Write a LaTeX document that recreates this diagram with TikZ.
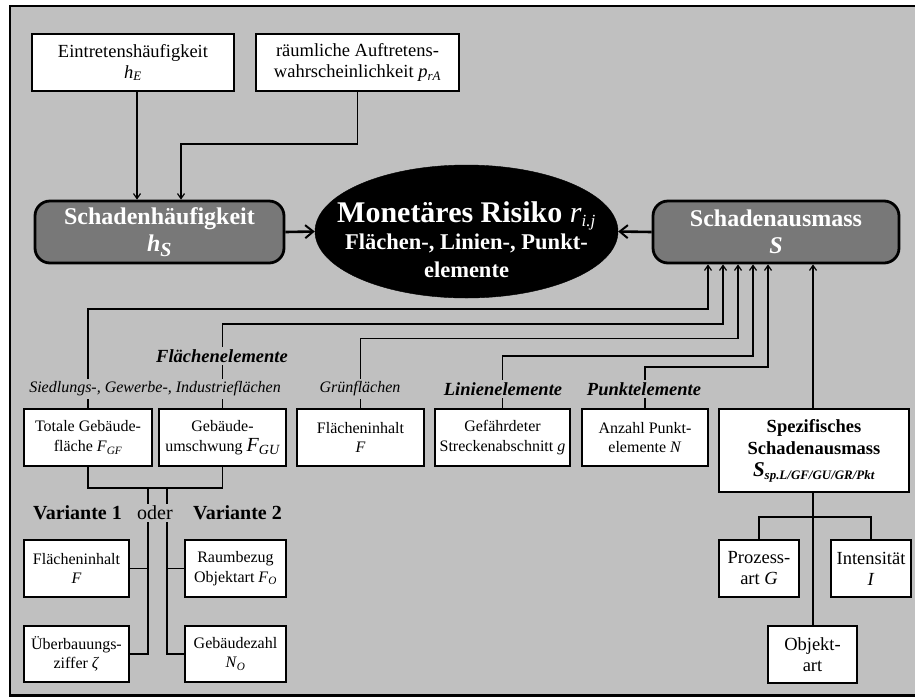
\documentclass[tikz,border=0pt]{standalone}
\usepackage{fontspec}
\setmainfont{Liberation Serif}
\usetikzlibrary{arrows.meta,shapes.geometric}
\definecolor{panelgray}{RGB}{192,192,192}
\definecolor{boxgray}{RGB}{120,120,120}
\newcommand\isub[1]{\textsubscript{\itshape #1}}
\tikzset{
  conn/.style={line width=1.8pt},
  arr/.style={conn,-{Straight Barb[length=5pt,width=7pt,line width=1.2pt]}},
  bigarr/.style={line width=2.6pt,-{Straight Barb[length=8pt,width=13pt,line width=2pt]}},
  wbox/.style={draw,line width=1.8pt,fill=white,inner sep=0pt,align=center,
    font=\fontsize{16}{19.5}\selectfont},
  topbox/.style={wbox,font=\fontsize{18.5}{21}\selectfont},
  rbox/.style={wbox,font=\fontsize{18.5}{21}\selectfont},
  mainbox/.style={draw,line width=2.8pt,fill=boxgray,rounded corners=15pt,
    text=white,inner sep=0pt,align=center,font=\bfseries\fontsize{24}{28}\selectfont},
  lab/.style={fill=panelgray,inner sep=2.5pt,font=\fontsize{16}{19}\selectfont\itshape},
  blab/.style={lab,font=\fontsize{18.5}{21}\selectfont\bfseries\itshape},
}
\begin{document}
\begin{tikzpicture}[x=1pt,y=-1pt]
\useasboundingbox (0,0) rectangle (915,697);
% panel
\fill[panelgray] (10,6) rectangle (930,695.5);
\draw[line width=2.4pt] (930,6) -- (10,6) -- (10,695.5) -- (930,695.5);

% top inputs
\node[topbox,minimum width=202pt,minimum height=57pt] (hE) at (133,62.5)
  {Eintretenshäufigkeit\\\textit{h}\isub{E}};
\node[topbox,minimum width=203pt,minimum height=57pt] (prA) at (357.5,62.5)
  {räumliche Auftretens-\\wahrscheinlichkeit \textit{p}\isub{rA}};

% main row
\node[mainbox,minimum width=249pt,minimum height=62pt] (hS) at (159.5,232)
  {Schadenhäufigkeit\\[-1pt]\textit{h}\textsubscript{\itshape\fontsize{20}{20}\selectfont S}};
\node[draw=black,fill=black,ellipse,minimum width=303pt,minimum height=133pt,inner sep=0pt] (ell) at (466.5,231.5) {};
\node[text=white,align=center,inner sep=0pt,font=\bfseries\fontsize{22.5}{28.5}\selectfont] (ellt) at (466.5,240)
  {{\fontsize{30}{31}\selectfont Monetäres Risiko {\mdseries\itshape r}\textsubscript{\mdseries\itshape\fontsize{17}{17}\selectfont i.j}}\\[-2pt]
   Flächen-, Linien-, Punkt-\\elemente};
\node[mainbox,minimum width=246pt,minimum height=62pt] (S) at (776,232)
  {Schadenausmass\\[-1pt]\textit{S}};

\draw[arr] ([xshift=4pt]hE.south) -- ([xshift=4pt]hE.south |- hS.north);
\draw[arr] (prA.south) -- (prA.south |- 0,144) -| ([xshift=21.5pt]hS.north);
\draw[bigarr] (hS.east) -- (ell.west);
\draw[bigarr] (S.west) -- (ell.east);

% element boxes
\node[wbox,minimum width=128pt,minimum height=57pt] (FGF) at (88,437.5)
  {Totale Gebäude-\\fläche \textit{F}\isub{GF}};
\node[wbox,minimum width=127pt,minimum height=57pt] (FGU) at (222.5,437.5)
  {Gebäude-\\umschwung {\fontsize{20}{20}\selectfont\textit{F}\isub{GU}}};
\node[wbox,minimum width=127pt,minimum height=57pt] (Fgr) at (360.5,437.5)
  {Flächeninhalt\\\textit{F}};
\node[wbox,minimum width=135pt,minimum height=57pt] (g) at (502.5,437.5)
  {Gefährdeter\\Streckenabschnitt \textit{g}};
\node[wbox,minimum width=126pt,minimum height=57pt] (N) at (645,437.5)
  {Anzahl Punkt-\\elemente \textit{N}};
\node[draw,line width=2.6pt,fill=white,inner sep=0pt,align=center,minimum width=190pt,minimum height=83pt,
  font=\bfseries\fontsize{18.5}{22}\selectfont] (Ssp) at (814,450.5)
  {Spezifisches\\Schadenausmass\\{\itshape\fontsize{21}{21}\selectfont S}\textsubscript{\itshape sp.L/GF/GU/GR/Pkt}};

% connectors into the damage extent
\draw[arr] (FGF.north) |- ([xshift=-68pt]S.south |- 0,309) -- ([xshift=-68pt]S.south);
\draw[arr] (FGU.north) |- ([xshift=-53pt]S.south |- 0,324) -- ([xshift=-53pt]S.south);
\draw[arr] (Fgr.north) |- ([xshift=-38pt]S.south |- 0,338.5) -- ([xshift=-38pt]S.south);
\draw[arr] (g.north) |- ([xshift=-23pt]S.south |- 0,356) -- ([xshift=-23pt]S.south);
\draw[arr] (N.north) |- ([xshift=-8pt]S.south |- 0,367) -- ([xshift=-8pt]S.south);
\draw[arr] ([xshift=-1pt]Ssp.north) -- ([xshift=-1pt]Ssp.north |- S.south);

% group labels over the connectors
\node[blab] (lflaeche) at (222,356) {Flächenelemente};
\node[lab] (lsgi) at (155,389) {Siedlungs-, Gewerbe-, Industrieflächen};
\node[lab] (lgruen) at (360,389) {Grünflächen};
\node[blab] (llinie) at (503,389) {Linienelemente};
\node[blab] (lpunkt) at (644,389) {Punktelemente};

% variants
\node[wbox,minimum width=105pt,minimum height=57pt] (F1) at (76.5,568.5)
  {Flächeninhalt\\\textit{F}};
\node[wbox,minimum width=105pt,minimum height=56pt] (zeta) at (76.5,654)
  {Überbauungs-\\ziffer \textit{ζ}};
\node[wbox,minimum width=101pt,minimum height=57pt] (FO) at (235.5,568.5)
  {Raumbezug\\Objektart \textit{F}\isub{O}};
\node[wbox,minimum width=101pt,minimum height=56pt] (NO) at (235.5,654)
  {Gebäudezahl\\\textit{N}\isub{O}};

\draw[conn] (FGF.south) -- ++(0,21) -| (FGU.south);
\coordinate (j1) at (148,487);
\coordinate (j2) at (167,487);
\draw[conn] (j1) |- (zeta.east);
\draw[conn] (F1.east) -- (F1.east -| j1);
\draw[conn] (j2) |- (NO.west);
\draw[conn] (FO.west) -- (FO.west -| j2);

\node[fill=panelgray,inner sep=2pt,font=\fontsize{20}{22}\selectfont] (oder) at (155,513) {oder};
\node[inner sep=0pt,font=\bfseries\fontsize{20}{22}\selectfont] (v1) at (77.5,513) {Variante 1};
\node[inner sep=0pt,font=\bfseries\fontsize{20}{22}\selectfont] (v2) at (237.5,513) {Variante 2};

% factors of the specific damage extent
\node[rbox,minimum width=80pt,minimum height=57pt] (G) at (759,568.5)
  {Prozess-\\art \textit{G}};
\node[rbox,minimum width=80pt,minimum height=57pt] (I) at (871,568.5)
  {Intensität\\\textit{I}};
\node[rbox,minimum width=89pt,minimum height=57pt] (Obj) at (812.5,654.5)
  {Objekt-\\art};
\draw[conn] ([xshift=-1pt]Ssp.south) -- ([xshift=-1pt]Ssp.south |- Obj.north);
\draw[conn] (G.north) -- ++(0,-22) -| (I.north);
\end{tikzpicture}
\end{document}
